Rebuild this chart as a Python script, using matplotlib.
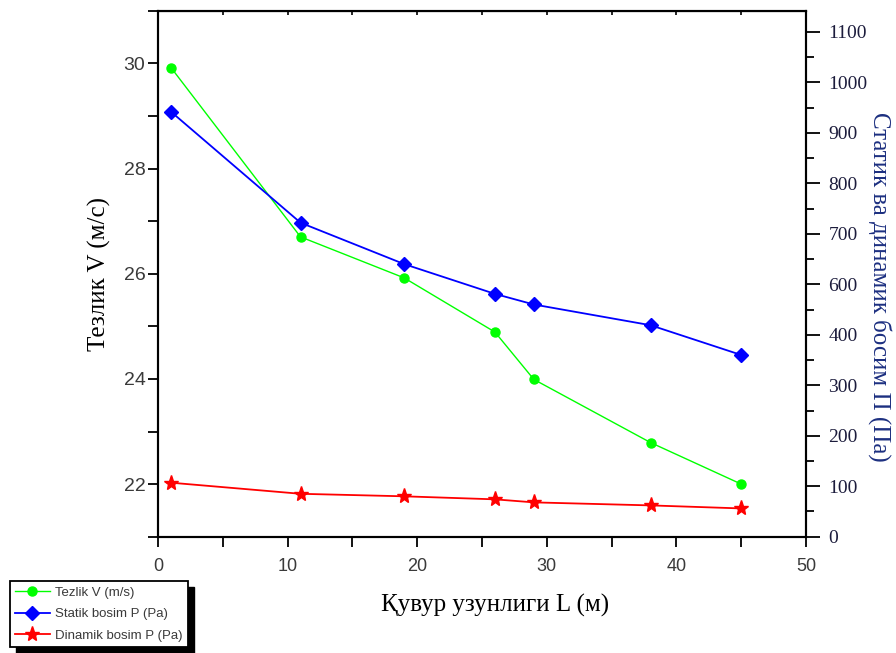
import matplotlib
matplotlib.use("Agg")
import matplotlib.pyplot as plt
from matplotlib.ticker import MultipleLocator
from matplotlib.patches import Rectangle

# pipe length L (m)
pipeLength = [1, 11, 19, 26, 29, 38, 45]
# velocity V (m/s), left axis
velocity = [29.92, 26.70, 25.92, 24.89, 23.99, 22.79, 22.00]
# static and dynamic pressure, right axis (axis units, the printed labels skip 500)
staticPressure = [842, 622, 540, 481, 460, 419, 360]
dynamicPressure = [107, 85, 80, 74, 68, 62, 56]

rightTickPos = [0, 100, 200, 300, 400, 500, 600, 700, 800, 900, 1000]
rightTickText = ['0', '100', '200', '300', '400', '600', '700', '800', '900', '1000', '1100']

seriesNames = ['Tezlik V (m/s)', 'Statik bosim P (Pa)', 'Dinamik bosim P (Pa)']

serif = 'Liberation Serif'
sans = 'Liberation Sans'

fig = plt.figure(figsize=(8.96, 6.53), dpi=100)
ax = fig.add_axes([0.1763, 0.1781, 0.7233, 0.8055])
ax2 = ax.twinx()

l1, = ax.plot(pipeLength, velocity, color='#00ff00', linewidth=1.0,
              marker='o', markersize=6.5, label=seriesNames[0])
l2, = ax2.plot(pipeLength, staticPressure, color='#0000ff', linewidth=1.3,
               marker='D', markersize=7.5, label=seriesNames[1])
l3, = ax2.plot(pipeLength, dynamicPressure, color='#ff0000', linewidth=1.3,
               marker='*', markersize=11, label=seriesNames[2])

ax.set_xlim(0, 50)
ax.set_ylim(21, 31)
ax2.set_ylim(0, 1042)

ax.set_xticks([0, 10, 20, 30, 40, 50])
ax.xaxis.set_minor_locator(MultipleLocator(5))
ax.set_yticks([22, 24, 26, 28, 30])
ax.yaxis.set_minor_locator(MultipleLocator(1))
ax2.set_yticks(rightTickPos, rightTickText)
ax2.yaxis.set_minor_locator(MultipleLocator(50))

for a in (ax, ax2):
    for s in a.spines.values():
        s.set_linewidth(1.5)

ax.tick_params(axis='x', which='major', direction='out', length=7, width=1.3, pad=8,
               labelsize=13, labelcolor='#3a3a3a')
ax.tick_params(axis='x', which='minor', direction='out', length=7, width=1.3)
ax.tick_params(axis='y', which='major', direction='out', length=7, width=1.3, pad=2,
               labelsize=14, labelcolor='#3a3a3a')
ax.tick_params(axis='y', which='minor', direction='out', length=7, width=1.3)
ax2.tick_params(axis='y', which='major', direction='out', length=10, width=1.3, pad=6,
                labelsize=14, labelcolor='#1c1c3c')
ax2.tick_params(axis='y', which='minor', direction='out', length=6, width=1.3)
for t in ax.get_xticklabels() + ax.get_yticklabels():
    t.set_fontfamily(sans)
for t in ax2.get_yticklabels():
    t.set_fontfamily(serif)

# small inward ticks on the top edge
top = ax.secondary_xaxis('top')
top.set_xticks([0, 10, 20, 30, 40, 50])
top.xaxis.set_minor_locator(MultipleLocator(5))
top.tick_params(which='both', direction='in', length=3, width=1.2, labeltop=False)

ax.set_xlabel('Қувур узунлиги L (м)', fontsize=18, fontfamily=serif, color='black')
ax.xaxis.label.set_va('center')
ax.xaxis.set_label_coords(0.52, -0.13)
ax.set_ylabel('Тезлик V (м/с)', fontsize=18, fontfamily=serif, color='black')
ax.yaxis.label.set_va('center')
ax.yaxis.set_label_coords(-0.09, 0.5)
ax2.set_ylabel('Статик ва динамик босим П (Па)', fontsize=18, fontfamily=serif,
               color='#1c2f80', rotation=270)
ax2.yaxis.label.set_va('center')
ax2.yaxis.set_label_coords(1.114, 0.475)

legend = fig.legend(handles=[l1, l2, l3], loc='lower left',
                    bbox_to_anchor=(10 / 896, 6 / 653), bbox_transform=fig.transFigure,
                    prop={'family': sans, 'size': 9.5}, fancybox=False, framealpha=1,
                    edgecolor='black', handlelength=2.6, labelspacing=0.7,
                    borderpad=0.4, handletextpad=0.4, borderaxespad=0)
legend.get_frame().set_linewidth(1.3)
for t in legend.get_texts():
    t.set_color('#3a3a3a')

# solid black drop shadow behind the legend box
fig.canvas.draw()
bb = legend.get_window_extent().transformed(fig.transFigure.inverted())
fig.add_artist(Rectangle((bb.x0 + 6 / 896, bb.y0 - 6 / 653), bb.width, bb.height,
                         transform=fig.transFigure, facecolor='black',
                         edgecolor='black', zorder=legend.get_zorder() - 1))

fig.savefig('out.png', dpi=100)
